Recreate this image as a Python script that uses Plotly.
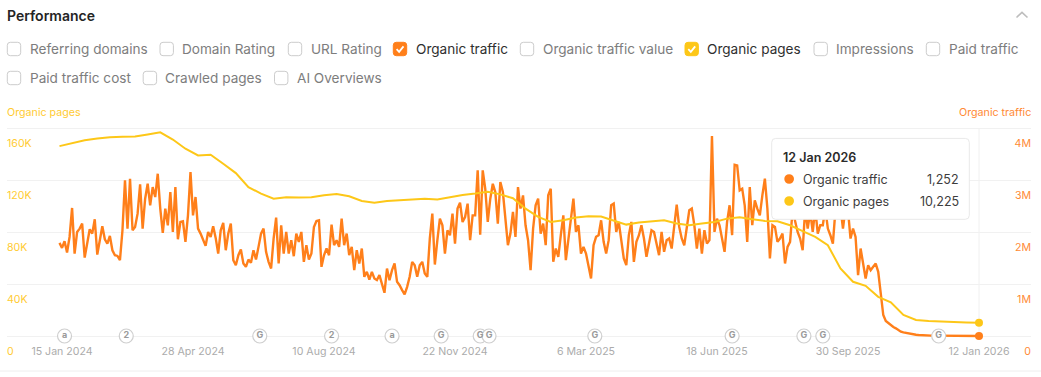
import pandas as pd
import plotly.graph_objects as go

FONT = "Inter"
ORANGE = "#FF7F1A"
YELLOW = "#FDC718"
END_DATE = "2026-01-12"

# Organic traffic in thousands, one reading every two days up to END_DATE
traffic_k = [
    1795,1698,1827,1609,1910,2468,1589,2006,2070,2166,1512,1827,2057,1974,2250,1570,
    1827,2115,1865,1782,1929,1653,1557,1544,1461,2038,3000,2070,3032,2038,2102,2359,
    2923,2070,2647,2935,2519,2871,2679,3128,2455,1987,2455,2134,2775,2006,2871,1865,
    2198,2211,1814,2326,3160,2326,2679,2070,1974,1846,1737,2006,1910,2115,1891,1589,
    2038,2179,1654,1974,2166,1461,1365,1557,1666,1397,1333,1474,1410,1654,1474,1718,
    1974,2070,1621,1429,1301,1878,2282,1397,2134,1589,2006,1589,1846,1538,1974,1814,
    2006,1429,1750,1474,1589,2102,2218,2230,1333,1557,1686,1557,2147,1750,1846,1718,
    2262,1750,1974,1557,1718,1269,1654,1397,1686,1141,1237,1089,1237,1109,1077,1173,
    1012,833,
    1301,1076,1269,1397,1044,980,884,801,948,1141,1429,1365,1141,1365,1429,1205,
    1141,1878,2359,1378,1846,2262,2134,1589,2038,1942,2359,1782,2455,2570,2198,2294,
    2551,1846,2326,2326,3192,1955,3192,2839,2198,2647,2935,2775,2166,2968,2775,2326,
    1750,1974,2391,1910,2871,2455,2711,2134,1846,1269,2070,2519,2647,1974,2166,1750,
    2711,
    2840,1430,1686,1526,1943,2327,1462,1879,2263,2648,2007,2135,1590,1718,1590,1366,
    1109,1750,1911,1943,2231,1815,1590,1847,2520,2552,2007,2199,1879,1494,1366,1943,
    2199,1430,1815,1943,2135,1879,1526,1750,2039,2007,1750,1558,2007,1622,1847,1879,
    1686,2135,2532,2103,1879,1750,2135,2423,2455,2135,1686,2071,1590,2039,1782,1847,
    3853,2007,2263,2135,1879,1622,2199,2520,1943,3302,3289,2808,2840,2520,1815,2872,
    2135,2616,2455,2327,2712,3032,2455,1494,2135,2103,1815,1879,1975,1398,1718,1815,
    2423,2199,2006,1878,1654,2455,2071,2391,2006,2455,1974,2135,2135,2455,2071,1942,
    1782,2423,2391,2487,2071,2455,2423,1878,2071,1910,1173,1686,1430,1109,1365,1269,
    1333,1397,1237,789,404,289,244,199,173,148,116,84,
    70,60,45,38,30,25,20,15,12,10,8,8,7,7,6,6,5,5,5,4,4,4,3,3,3,2,2,2,2,2,1.252,
]
assert len(traffic_k) == 366

# Organic pages in thousands, one reading every ten days up to END_DATE
pages_k = [
    146.4,149.0,151.0,152.3,153.3,153.6,153.8,155.4,157.1,151.5,144.4,139.2,139.8,132.8,
    125.6,114.8,109.8,105.9,106.9,106.7,106.9,108.5,109.5,107.7,104.1,102.8,104.1,104.6,
    105.4,105.9,105.2,106.9,108.7,109.8,111.3,109.2,106.2,98.2,91.8,87.9,89.2,91.3,92.3,
    92.1,89.2,85.9,87.5,88.5,89.2,86.7,85.4,86.7,87.9,90.5,91.5,90.0,88.7,88.5,85.4,80.8,
    76.4,70.0,52.1,41.8,38.7,30.2,25.9,16.2,12.3,11.5,11.0,10.8,10.5,10.225,
]

tick_dates = ["2024-01-15","2024-04-28","2024-08-10","2024-11-22",
              "2025-03-06","2025-06-18","2025-09-30","2026-01-12"]
tick_labels = ["15 Jan 2024","28 Apr 2024","10 Aug 2024","22 Nov 2024",
               "6 Mar 2025","18 Jun 2025","30 Sep 2025","12 Jan 2026"]

event_dates = ["2024-01-17","2024-03-06","2024-06-20","2024-08-16","2024-10-03",
               "2024-11-11","2024-12-12","2024-12-19","2025-03-13","2025-06-30",
               "2025-08-26","2025-09-10","2025-12-11"]
event_marks = ["a","2","G","2","a","G","G","G","G","G","G","G","G"]

pages_ticks = [0, 40000, 80000, 120000, 160000]
pages_labels = ["0", "40K", "80K", "120K", "160K"]
traffic_ticks = [0, 1000000, 2000000, 3000000, 4000000]
traffic_labels = ["0", "1M", "2M", "3M", "4M"]

metrics_row1 = ["Referring domains","Domain Rating","URL Rating","Organic traffic",
                "Organic traffic value","Organic pages","Impressions","Paid traffic"]
metrics_row2 = ["Paid traffic cost","Crawled pages","AI Overviews"]

# ---- page geometry
W, H = 1041, 377
L, R, T, B = 7, 1031, 118, 360      # plot box; wider than the gridded zone so shifted labels stay in range
Y0, Y_TOP = 336, 128.5              # pixel rows of the zero and top gridlines
PX_PER_DAY = 1.2596
X_END_PX = 979
px = lambda x: (x - L) / (R - L)
py = lambda y: (B - y) / (B - T)

end = pd.Timestamp(END_DATE)
x_range = [end - pd.Timedelta(days=(X_END_PX - L) / PX_PER_DAY),
           end + pd.Timedelta(days=(R - X_END_PX) / PX_PER_DAY)]
frac_low = -(B - Y0) / (Y0 - Y_TOP)
frac_high = (Y0 - T) / (Y0 - Y_TOP)

traffic_dates = pd.date_range(end=end, periods=len(traffic_k), freq="2D")
pages_dates = pd.date_range(end=end, periods=len(pages_k), freq="10D")

fig = go.Figure()
fig.add_trace(go.Scatter(x=traffic_dates, y=[v * 1000 for v in traffic_k], mode="lines",
                         line=dict(color=ORANGE, width=2.4), yaxis="y", name="Organic traffic"))
fig.add_trace(go.Scatter(x=pages_dates, y=[v * 1000 for v in pages_k], mode="lines",
                         line=dict(color=YELLOW, width=2), yaxis="y2", name="Organic pages"))
fig.add_trace(go.Scatter(x=[traffic_dates[-1]], y=[traffic_k[-1] * 1000], mode="markers",
                         marker=dict(color=ORANGE, size=8), yaxis="y"))
fig.add_trace(go.Scatter(x=[pages_dates[-1]], y=[pages_k[-1] * 1000], mode="markers",
                         marker=dict(color=YELLOW, size=8), yaxis="y2"))
fig.add_trace(go.Scatter(x=pd.to_datetime(event_dates), y=[0] * len(event_dates),
                         mode="markers+text", text=event_marks, textposition="middle center",
                         textfont=dict(family=FONT, size=9, color="#9a9a9a", weight=700),
                         marker=dict(size=14, color="#ffffff", line=dict(color="#cfcfcf", width=1.2)),
                         yaxis="y2"))

shapes, annotations = [], []


def rrect(x0, y0, x1, y1, r, **kw):
    c = r
    path = (f"M {px(x0+c)} {py(y0)} L {px(x1-c)} {py(y0)} Q {px(x1)} {py(y0)} {px(x1)} {py(y0+c)} "
            f"L {px(x1)} {py(y1-c)} Q {px(x1)} {py(y1)} {px(x1-c)} {py(y1)} "
            f"L {px(x0+c)} {py(y1)} Q {px(x0)} {py(y1)} {px(x0)} {py(y1-c)} "
            f"L {px(x0)} {py(y0+c)} Q {px(x0)} {py(y0)} {px(x0+c)} {py(y0)} Z")
    shapes.append(dict(type="path", xref="paper", yref="paper", path=path, layer="above", **kw))


def polyline(points, color, width):
    d = "M " + " L ".join(f"{px(a)} {py(b)}" for a, b in points)
    shapes.append(dict(type="path", xref="paper", yref="paper", path=d, layer="above",
                       line=dict(color=color, width=width)))


def text(x, y, s, size=14, color="#767676", anchor="left", weight=400):
    annotations.append(dict(xref="paper", yref="paper", x=px(x), y=py(y), text=s, showarrow=False,
                            xanchor=anchor, yanchor="middle", borderpad=0, borderwidth=0,
                            font=dict(family=FONT, size=size, color=color, weight=weight)))


text(7, 15, "Performance", size=14, color="#242424", weight=600)
polyline([(1016.5, 17.5), (1022, 12.3), (1027.5, 17.5)], "#bdbdbd", 1.6)

row1_boxes = [7.3, 160, 288.3, 393.3, 520.3, 685, 814, 926.3]
row2_boxes = [7.3, 143.2, 274.5]
checked = {"Organic traffic": ORANGE, "Organic pages": YELLOW}
for names, boxes, yc in ((metrics_row1, row1_boxes, 49), (metrics_row2, row2_boxes, 78)):
    for name, bx in zip(names, boxes):
        col = checked.get(name)
        if col:
            rrect(bx, yc - 6.7, bx + 13.4, yc + 6.7, 3, fillcolor=col, line=dict(color=col, width=1))
            polyline([(bx + 3.3, yc + 0.2), (bx + 5.8, yc + 2.8), (bx + 10.2, yc - 2.6)], "#ffffff", 1.8)
        else:
            rrect(bx, yc - 6.7, bx + 13.4, yc + 6.7, 3, fillcolor="#ffffff", line=dict(color="#cccccc", width=1))
        text(bx + 22.2, yc, name, size=13.6, color="#2f2f2f" if col else "#7d7d7d")

text(7, 112, "Organic pages", size=10.7, color="#FFCB33")
text(1031, 112, "Organic traffic", size=10.7, color="#FF8A35", anchor="right")

# crosshair
shapes.append(dict(type="line", xref="x", yref="paper", x0=end, x1=end, y0=py(Y0), y1=py(Y_TOP),
                   layer="below", line=dict(color="#f0f0f0", width=1)))
# bottom rule
shapes.append(dict(type="line", xref="paper", yref="paper", x0=px(0), x1=px(W), y0=py(371), y1=py(371),
                   layer="below", line=dict(color="#eeeeee", width=1)))

# tooltip
rrect(771.7, 138.4, 969.3, 219.3, 4, fillcolor="#ffffff", line=dict(color="#e9e9e9", width=1))
for yc, col in ((179, ORANGE), (201, YELLOW)):
    shapes.append(dict(type="circle", xref="paper", yref="paper", layer="above",
                       x0=px(784.3), x1=px(794), y0=py(yc + 4.8), y1=py(yc - 4.8),
                       fillcolor=col, line=dict(width=0)))
text(782.7, 157, "12 Jan 2026", size=12.5, color="#2b2b2b", weight=600)
text(802.7, 179, "Organic traffic", size=12.5, color="#3d3d3d")
text(802.7, 201, "Organic pages", size=12.5, color="#3d3d3d")
text(958.7, 179, "1,252", size=12.5, color="#3d3d3d", anchor="right")
text(958.7, 201, "10,225", size=12.5, color="#3d3d3d", anchor="right")

fig.update_layout(
    width=W, height=H, autosize=False,
    margin=dict(l=L, r=W - R, t=T, b=H - B, pad=0),
    paper_bgcolor="#ffffff", plot_bgcolor="#ffffff",
    showlegend=False, hovermode=False,
    font=dict(family=FONT, size=11),
    shapes=shapes, annotations=annotations,
    xaxis=dict(range=x_range, type="date", tickmode="array", tickvals=tick_dates, ticktext=tick_labels,
               showgrid=False, zeroline=False, showline=False, ticks="", ticklabelposition="inside",
               tickfont=dict(family=FONT, size=10.6, color="#ababab")),
    yaxis=dict(side="right", range=[frac_low * 4e6, frac_high * 4e6], tickmode="array", tickvals=traffic_ticks,
               ticktext=traffic_labels, showgrid=True, gridcolor="#f1f1f1", gridwidth=1, zeroline=False,
               showline=False, ticks="", ticklabelposition="inside", ticklabelshift=15, ticklabelstandoff=-3,
               tickfont=dict(family=FONT, size=10.6, color="#FF8A35")),
    yaxis2=dict(side="left", overlaying="y", range=[frac_low * 160000, frac_high * 160000], tickmode="array",
                tickvals=pages_ticks, ticktext=pages_labels, showgrid=False, zeroline=False,
                showline=False, ticks="", ticklabelposition="inside", ticklabelshift=15, ticklabelstandoff=-3,
                tickfont=dict(family=FONT, size=10.6, color="#FFCB33")),
)

fig.write_html("out.html", post_script="document.body.style.margin='0';",
               config={"displayModeBar": False})
